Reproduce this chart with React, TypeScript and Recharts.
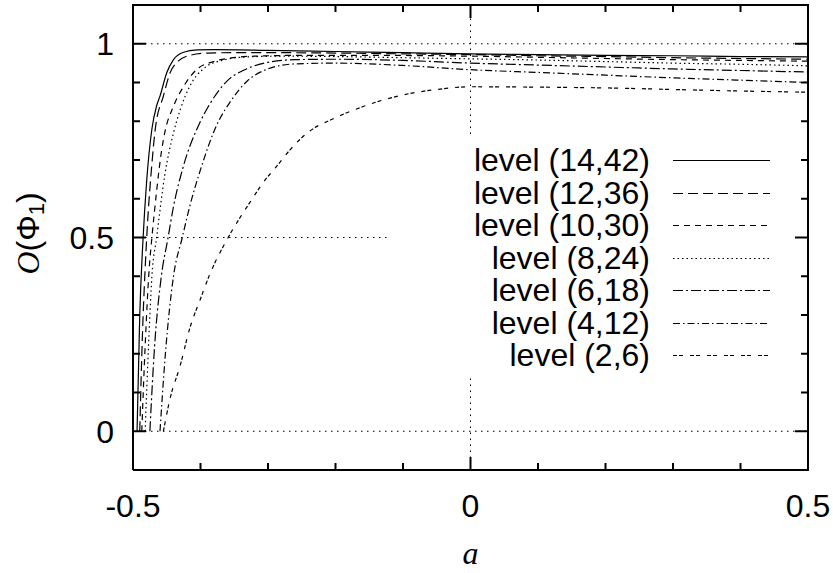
import React from 'react';
import { LineChart, Line, XAxis, YAxis, ReferenceLine, Legend } from 'recharts';

// ---- data ----
const X_TICKS = [-0.5, -0.4, -0.3, -0.2, -0.1, 0, 0.1, 0.2, 0.3, 0.4, 0.5];
const X_MAJOR = [-0.5, 0, 0.5];
const X_LABELS = ['-0.5', '0', '0.5'];
const Y_TICKS = [0, 0.1, 0.2, 0.3, 0.4, 0.5, 0.6, 0.7, 0.8, 0.9, 1];
const Y_MAJOR = [0, 0.5, 1];
const Y_LABELS = ['0', '0.5', '1'];
const X_DOMAIN = [-0.5, 0.5];
const Y_DOMAIN = [-0.1, 1.1];
const GRID_Y = [0, 0.5, 1];
const GRID_X = [0];

const NAMES = ['level (14,42)', 'level (12,36)', 'level (10,30)', 'level (8,24)', 'level (6,18)', 'level (4,12)', 'level (2,6)'];

const a14 = [-0.494, -0.49, -0.485, -0.48, -0.472, -0.465, -0.46, -0.45, -0.44, -0.425, -0.405, -0.38, -0.3, -0.2, -0.1, 0, 0.1, 0.2, 0.3, 0.4, 0.5];
const o14 = [0, 0.3, 0.5, 0.64, 0.78, 0.84, 0.865, 0.925, 0.959, 0.978, 0.984, 0.985, 0.983, 0.98, 0.977, 0.974, 0.972, 0.97, 0.969, 0.967, 0.966];

const a12 = [-0.49, -0.486, -0.482, -0.478, -0.472, -0.467, -0.455, -0.445, -0.433, -0.416, -0.39, -0.35, -0.3, -0.2, -0.1, 0, 0.1, 0.2, 0.3, 0.4, 0.5];
const o12 = [0, 0.25, 0.42, 0.55, 0.69, 0.78, 0.865, 0.925, 0.955, 0.97, 0.976, 0.977, 0.977, 0.976, 0.974, 0.972, 0.969, 0.967, 0.964, 0.962, 0.96];

const a10 = [-0.487, -0.482, -0.476, -0.472, -0.465, -0.458, -0.453, -0.44, -0.425, -0.406, -0.381, -0.356, -0.32, -0.25, -0.15, 0, 0.1, 0.2, 0.3, 0.4, 0.5];
const o10 = [0, 0.22, 0.42, 0.5, 0.62, 0.72, 0.77, 0.839, 0.89, 0.933, 0.954, 0.963, 0.968, 0.97, 0.97, 0.968, 0.965, 0.962, 0.959, 0.957, 0.955];

const a8 = [-0.482, -0.477, -0.472, -0.465, -0.453, -0.44, -0.43, -0.416, -0.396, -0.366, -0.332, -0.28, -0.2, -0.1, 0, 0.1, 0.2, 0.3, 0.4, 0.5];
const o8 = [0, 0.22, 0.4, 0.5, 0.66, 0.77, 0.83, 0.89, 0.935, 0.958, 0.966, 0.968, 0.967, 0.964, 0.961, 0.958, 0.954, 0.95, 0.947, 0.943];

const a6 = [-0.475, -0.468, -0.458, -0.448, -0.44, -0.426, -0.4, -0.386, -0.36, -0.332, -0.3, -0.26, -0.2, -0.1, 0, 0.1, 0.2, 0.3, 0.4, 0.5];
const o6 = [0, 0.22, 0.4, 0.5, 0.58, 0.68, 0.8, 0.845, 0.905, 0.935, 0.952, 0.959, 0.96, 0.957, 0.95, 0.945, 0.94, 0.935, 0.931, 0.927];

const a4 = [-0.46, -0.452, -0.44, -0.427, -0.416, -0.4, -0.376, -0.356, -0.33, -0.3, -0.26, -0.2, -0.1, 0, 0.1, 0.2, 0.3, 0.4, 0.5];
const o4 = [0, 0.2, 0.4, 0.5, 0.58, 0.675, 0.79, 0.85, 0.905, 0.935, 0.948, 0.95, 0.944, 0.933, 0.926, 0.919, 0.912, 0.906, 0.9];

const a2 = [-0.455, -0.445, -0.43, -0.416, -0.4, -0.386, -0.359, -0.327, -0.307, -0.287, -0.267, -0.238, -0.204, -0.159, -0.1, -0.05, 0, 0.1, 0.2, 0.3, 0.4, 0.5];
const o2 = [0, 0.085, 0.17, 0.265, 0.342, 0.406, 0.5, 0.59, 0.642, 0.684, 0.727, 0.775, 0.806, 0.838, 0.868, 0.882, 0.889, 0.888, 0.886, 0.882, 0.878, 0.875];

const XS = [a14, a12, a10, a8, a6, a4, a2];
const YS = [o14, o12, o10, o8, o6, o4, o2];
const DASHES = [undefined, '10 5', '6 5', '1.5 3', '10 3 2 3', '7 3 1.5 3', '4 2 4 7'];

const SERIES = NAMES.map((name, i) => ({
  name,
  dash: DASHES[i],
  data: XS[i].map((x, j) => ({ x, y: YS[i][j] })),
}));

// ---- layout / styling ----
const FONT = '"Liberation Sans", Arial, Helvetica, sans-serif';
const FS = 32;
const W = 833;
const H = 573;
const MARGIN = { top: 5, right: 25, bottom: 0, left: 0 };
const Y_AXIS_W = 133;
const X_AXIS_H = 103;
const PLOT = {
  left: MARGIN.left + Y_AXIS_W,
  top: MARGIN.top,
  width: W - MARGIN.left - Y_AXIS_W - MARGIN.right,
  height: H - MARGIN.top - X_AXIS_H - MARGIN.bottom,
};

const near = (a: number, b: number) => Math.abs(a - b) < 1e-9;
const majorIndex = (v: number, list: number[]) => list.findIndex((m) => near(m, v));
const tickLen = (v: number, list: number[]) => (majorIndex(v, list) >= 0 ? 13 : 7);

const BottomTick = (p: any) => {
  const { x, y, payload } = p;
  const mi = majorIndex(payload.value, X_MAJOR);
  return (
    <g>
      <line x1={x} x2={x} y1={y} y2={y - tickLen(payload.value, X_MAJOR)} stroke="#000" strokeWidth={2} />
      {mi >= 0 && (
        <text x={x} y={y + 47} textAnchor="middle" fontFamily={FONT} fontSize={FS} fill="#000">
          {X_LABELS[mi]}
        </text>
      )}
    </g>
  );
};

const LeftTick = (p: any) => {
  const { x, y, payload } = p;
  const mi = majorIndex(payload.value, Y_MAJOR);
  return (
    <g>
      <line x1={x} x2={x + tickLen(payload.value, Y_MAJOR)} y1={y} y2={y} stroke="#000" strokeWidth={2} />
      {mi >= 0 && (
        <text x={x - 19} y={y + 11.5} textAnchor="end" fontFamily={FONT} fontSize={FS} fill="#000">
          {Y_LABELS[mi]}
        </text>
      )}
    </g>
  );
};

const YTitle = (p: any) => {
  const vb = p.viewBox;
  const cx = vb.x + 28;
  const cy = vb.y + vb.height / 2 - 4;
  return (
    <text
      x={cx}
      y={cy}
      transform={`rotate(-90 ${cx} ${cy})`}
      textAnchor="middle"
      dominantBaseline="central"
      fontFamily={FONT}
      fontSize={FS}
      fill="#000"
    >
      <tspan fontFamily='"Liberation Serif", serif' fontStyle="italic">O</tspan>
      <tspan>(Φ</tspan>
      <tspan fontSize={22} dy={8}>1</tspan>
      <tspan dy={-8}>)</tspan>
    </text>
  );
};

const XTitle = (p: any) => {
  const vb = p.viewBox;
  return (
    <text
      x={vb.x + vb.width / 2}
      y={vb.y + 94}
      textAnchor="middle"
      fontFamily='"Liberation Serif", serif'
      fontStyle="italic"
      fontSize={FS}
      fill="#000"
    >
      a
    </text>
  );
};

const LegendBox = () => (
  <div style={{ width: 412, height: 237, background: '#fff', position: 'relative' }}>
    {SERIES.map((s, i) => (
      <div
        key={s.name}
        style={{
          position: 'absolute',
          left: 0,
          top: 6 + i * 32.5,
          height: 32.5,
          width: 412,
          display: 'flex',
          alignItems: 'center',
        }}
      >
        <span
          style={{
            width: 262,
            textAlign: 'right',
            fontFamily: FONT,
            fontSize: FS,
            lineHeight: '32.5px',
            color: '#000',
            whiteSpace: 'nowrap',
          }}
        >
          {s.name}
        </span>
        <svg width={97} height={10} style={{ marginLeft: 23, display: 'block' }}>
          <line x1={0} x2={97} y1={5.5} y2={5.5} stroke="#000" strokeWidth={1} strokeDasharray={s.dash} />
        </svg>
      </div>
    ))}
  </div>
);

// Overlay for the top and right edges of the frame with their mirrored ticks
const FrameOverlay = () => {
  const sx = (v: number) => PLOT.left + ((v - X_DOMAIN[0]) / (X_DOMAIN[1] - X_DOMAIN[0])) * PLOT.width;
  const sy = (v: number) => PLOT.top + ((Y_DOMAIN[1] - v) / (Y_DOMAIN[1] - Y_DOMAIN[0])) * PLOT.height;
  const right = PLOT.left + PLOT.width;
  return (
    <svg
      width={W}
      height={H}
      style={{ position: 'absolute', left: 0, top: 0, pointerEvents: 'none', overflow: 'visible' }}
    >
      <line x1={PLOT.left - 1} x2={right + 1} y1={PLOT.top} y2={PLOT.top} stroke="#000" strokeWidth={2} />
      <line x1={right} x2={right} y1={PLOT.top} y2={PLOT.top + PLOT.height + 1} stroke="#000" strokeWidth={2} />
      {X_TICKS.map((v) => (
        <line key={'t' + v} x1={sx(v)} x2={sx(v)} y1={PLOT.top} y2={PLOT.top + tickLen(v, X_MAJOR)} stroke="#000" strokeWidth={2} />
      ))}
      {Y_TICKS.map((v) => (
        <line key={'r' + v} x1={right} x2={right - tickLen(v, Y_MAJOR)} y1={sy(v)} y2={sy(v)} stroke="#000" strokeWidth={2} />
      ))}
    </svg>
  );
};

export default function App() {
  return (
    <div style={{ position: 'absolute', left: 0, top: 0, width: W, height: H, background: '#fff' }}>
      <LineChart width={W} height={H} margin={MARGIN}>
        <XAxis
          xAxisId="b"
          type="number"
          dataKey="x"
          domain={X_DOMAIN}
          allowDataOverflow
          ticks={X_TICKS}
          interval={0}
          orientation="bottom"
          height={X_AXIS_H}
          tickSize={0}
          tickMargin={0}
          tickLine={false}
          axisLine={{ stroke: '#000', strokeWidth: 2 }}
          tick={(p: any) => <BottomTick {...p} />}
          label={{ content: (p: any) => <XTitle {...p} /> }}
        />
        <YAxis
          yAxisId="l"
          type="number"
          domain={Y_DOMAIN}
          allowDataOverflow
          ticks={Y_TICKS}
          interval={0}
          orientation="left"
          width={Y_AXIS_W}
          tickSize={0}
          tickMargin={0}
          tickLine={false}
          axisLine={{ stroke: '#000', strokeWidth: 2 }}
          tick={(p: any) => <LeftTick {...p} />}
          label={{ content: (p: any) => <YTitle {...p} /> }}
        />
        {GRID_Y.map((v) => (
          <ReferenceLine key={'gy' + v} xAxisId="b" yAxisId="l" y={v} stroke="#000" strokeWidth={1} strokeDasharray="1.5 4.5" />
        ))}
        {GRID_X.map((v) => (
          <ReferenceLine key={'gx' + v} xAxisId="b" yAxisId="l" x={v} stroke="#000" strokeWidth={1} strokeDasharray="1.5 4.5" />
        ))}
        {SERIES.map((s) => (
          <Line
            key={s.name}
            xAxisId="b"
            yAxisId="l"
            data={s.data}
            dataKey="y"
            name={s.name}
            type="monotone"
            stroke="#000"
            strokeWidth={1.2}
            strokeDasharray={s.dash}
            dot={false}
            activeDot={false}
            isAnimationActive={false}
          />
        ))}
        <Legend
          layout="vertical"
          align="center"
          verticalAlign="middle"
          content={() => <LegendBox />}
          wrapperStyle={{ left: 388, top: 138, width: 412, height: 237 }}
        />
      </LineChart>
      <FrameOverlay />
    </div>
  );
}
